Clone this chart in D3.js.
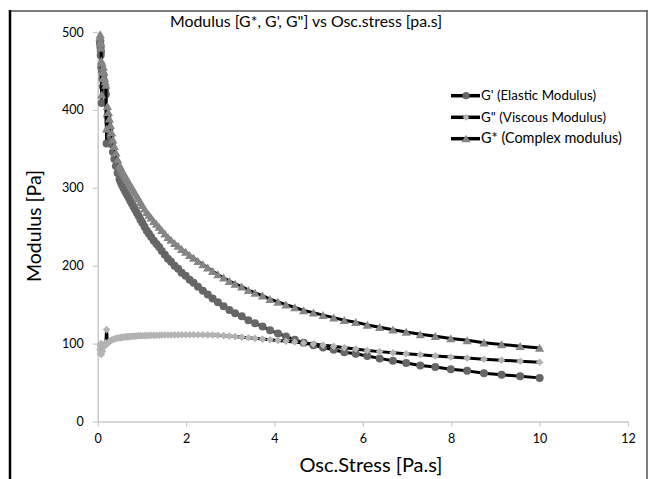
<!DOCTYPE html>
<html><head><meta charset="utf-8">
<script src="https://cdn.jsdelivr.net/npm/d3@7"></script>
<style>
html,body{margin:0;padding:0;background:#fff;}
svg{display:block;font-family:Lato,"Open Sans",sans-serif;}
</style></head>
<body>
<svg id="chart" width="650" height="479"></svg>
<script>
// ---- data ----
const stress = [0.052,0.057,0.063,0.068,0.075,0.082,0.090,0.098,0.107,0.117,0.128,0.140,0.154,0.168,0.184,0.201,0.220,0.241,0.263,0.288,0.315,0.345,0.377,0.413,0.451,
0.494,0.516,0.540,0.565,0.591,0.618,0.646,0.676,0.707,0.739,0.773,0.809,0.846,0.885,0.925,0.968,1.01,1.06,1.11,1.16,1.21,1.27,1.33,1.39,1.45,1.52,1.59,1.66,1.74,1.82,1.90,1.99,2.08,2.17,2.27,2.38,2.49,2.60,2.72,2.85,2.98,3.11,3.26,3.41,3.56,3.73,3.90,4.08,4.26,4.46,4.66,4.88,5.10,5.34,5.58,5.84,6.10,6.38,6.68,6.98,7.30,7.64,7.99,8.36,8.74,9.14,9.56,10.00];
const gElastic = [485,488,480,470,475,455,409,450,440,430,445,438,430,425,420,357,392,384,375,366,356,346,337,328,319,
311,308,305,302,299,296,293,290,287,283,280,276,272,268,264,259,255,250,245,241,237,232,228,224,219,214,209,205,200,196,191,187,182,178,173,168,163,158,153,148,143,139,135,130,126,122,117,113,109,105,101,98,95,92,89,87,84,81,78,75,72,70,67,65,62,60,58,56];
const gViscous = [92,98,87,95,100,86,93,97,90,95,96,98,97,99,101,118,100,101.5,102.5,103.5,104.5,105.3,106,106.6,107,
107.5,107.7,108,108.2,108.4,108.6,108.8,109,109,109.2,109.4,109.5,109.6,109.8,110,110,110,110.2,110.3,110.4,110.5,110.6,110.7,110.8,110.9,111,111,111.1,111.2,111.2,111.3,111.3,111.4,111.4,111.4,111.3,111.2,111,110.7,110.2,109.6,109,108.3,107.5,106.7,105.8,104.9,104,103,102,100.8,99.5,98,96.5,94.8,93,91.2,89.7,88.3,87,85.6,84.2,82.8,81.4,80,78.6,77.3,76];
const gComplex = [493.7,497,487.8,479.5,485.4,463.1,419.4,460.3,449.1,440.4,455.2,448.8,440.8,436.4,432.0,376.0,404.6,397.2,388.8,380.4,371.0,361.7,353.3,344.9,336.5,
329.1,326.3,323.6,320.8,318.0,315.3,312.5,309.8,307.0,303.3,300.6,296.9,293.3,289.6,286.0,281.4,277.7,273.2,268.7,265.1,261.5,257.0,253.5,249.9,245.5,241.1,236.6,233.2,228.8,225.3,221.1,217.6,213.4,210.0,205.8,201.5,197.3,193.1,188.8,184.5,180.2,176.6,173.1,168.7,165.1,161.5,157.1,153.6,150.0,146.4,142.7,139.7,136.5,133.3,130.0,127.4,124.0,120.9,117.8,114.9,111.9,109.5,106.5,104.2,101.2,98.9,96.6,94.4];
const seriesNames = ["G' (Elastic Modulus)", "G\" (Viscous Modulus)", "G* (Complex modulus)"];
const xTicks = [0,2,4,6,8,10,12];
const yTicks = [0,100,200,300,400,500];
const titleText = "Modulus [G*, G', G\"] vs Osc.stress [pa.s]";
const xTitle = "Osc.Stress [Pa.s]";
const yTitle = "Modulus [Pa]";

// ---- drawing ----
const svg = d3.select("#chart");
const x = d3.scaleLinear().domain([0,12]).range([97.7,628]);
const y = d3.scaleLinear().domain([0,500]).range([421.5,32]);

function fit(sel, target){
  const node = sel.node();
  const fs = parseFloat(sel.attr("font-size"));
  const w = node.getComputedTextLength();
  if (w>0) sel.attr("font-size", (fs*target/w).toFixed(2));
  return sel;
}

// frame
svg.append("line").attr("x1",9).attr("x2",647).attr("y1",11).attr("y2",11).attr("stroke","#555").attr("stroke-width",1.5);
svg.append("line").attr("x1",10).attr("x2",10).attr("y1",10).attr("y2",479).attr("stroke","#000").attr("stroke-width",2.5);
svg.append("line").attr("x1",647).attr("x2",647).attr("y1",10).attr("y2",479).attr("stroke","#555").attr("stroke-width",1.5);

// axes
const axisColor = "#c9c9c9";
const gx = svg.append("g").attr("transform",`translate(0,${y(0)})`)
  .call(d3.axisBottom(x).tickValues(xTicks).tickSize(5).tickSizeOuter(0).tickPadding(8).tickFormat(d3.format("d")));
const gy = svg.append("g").attr("transform",`translate(${x(0)},0)`)
  .call(d3.axisLeft(y).tickValues(yTicks).tickSize(5).tickSizeOuter(0).tickPadding(9).tickFormat(d3.format("d")));
[gx,gy].forEach(g=>{
  g.select(".domain").attr("stroke",axisColor).attr("stroke-width",1.5);
  g.selectAll(".tick line").attr("stroke",axisColor).attr("stroke-width",1.2);
  g.selectAll(".tick text").attr("fill","#000").attr("font-size",12.5).attr("font-family","Lato, 'Open Sans', sans-serif");
});

// series
const idx = d3.range(stress.length);
const series = [
  {vals:gElastic, color:"#666666", shape:"circle"},
  {vals:gViscous, color:"#b3b3b3", shape:"diamond"},
  {vals:gComplex, color:"#858585", shape:"triangle"}
];
const shapes = {
  circle: "M4,0A4,4 0 1,1 -4,0A4,4 0 1,1 4,0Z",
  diamond: "M0,-3.8L3.8,0L0,3.8L-3.8,0Z",
  triangle: "M0,-4.2L4.6,3.8L-4.6,3.8Z"
};
const legendShapes = {
  circle: "M3.6,0A3.6,3.6 0 1,1 -3.6,0A3.6,3.6 0 1,1 3.6,0Z",
  diamond: "M0,-3.4L3.4,0L0,3.4L-3.4,0Z",
  triangle: "M0,-4L4.5,3.5L-4.5,3.5Z"
};
const line = d3.line().x(i=>x(stress[i])).y(i=>0);
series.forEach(s=>{
  const ln = d3.line().x(i=>x(stress[i])).y(i=>y(s.vals[i]));
  svg.append("path").attr("d",ln(idx)).attr("fill","none").attr("stroke","#000").attr("stroke-width",3).attr("stroke-linejoin","round");
  svg.append("g").selectAll("path").data(idx).join("path")
    .attr("d",shapes[s.shape])
    .attr("transform",i=>`translate(${x(stress[i])},${y(s.vals[i])})`)
    .attr("fill",s.color);
});

// title
fit(svg.append("text").attr("x",306).attr("y",27).attr("text-anchor","middle").attr("font-size",15).attr("fill","#000").text(titleText), 272);
// axis titles
fit(svg.append("text").attr("x",371).attr("y",472).attr("text-anchor","middle").attr("font-size",17).attr("fill","#000").text(xTitle), 143);
fit(svg.append("text").attr("transform","translate(41,226) rotate(-90)").attr("text-anchor","middle").attr("font-size",17).attr("fill","#000").text(yTitle), 112);

// legend
const legY = [95.7,117.3,138.7];
const legW = [115,125,141];
series.forEach((s,k)=>{
  const g = svg.append("g").attr("transform",`translate(0,${legY[k]})`);
  g.append("line").attr("x1",451).attr("x2",480).attr("y1",0).attr("y2",0).attr("stroke","#000").attr("stroke-width",3.5);
  g.append("path").attr("d",legendShapes[s.shape]).attr("transform","translate(466,0)").attr("fill",s.color);
  const t = g.append("text").attr("x",481).attr("y",4.6).attr("font-size",13).attr("fill","#000").text(seriesNames[k]);
  fit(t, legW[k]);
});
</script>
</body></html>
